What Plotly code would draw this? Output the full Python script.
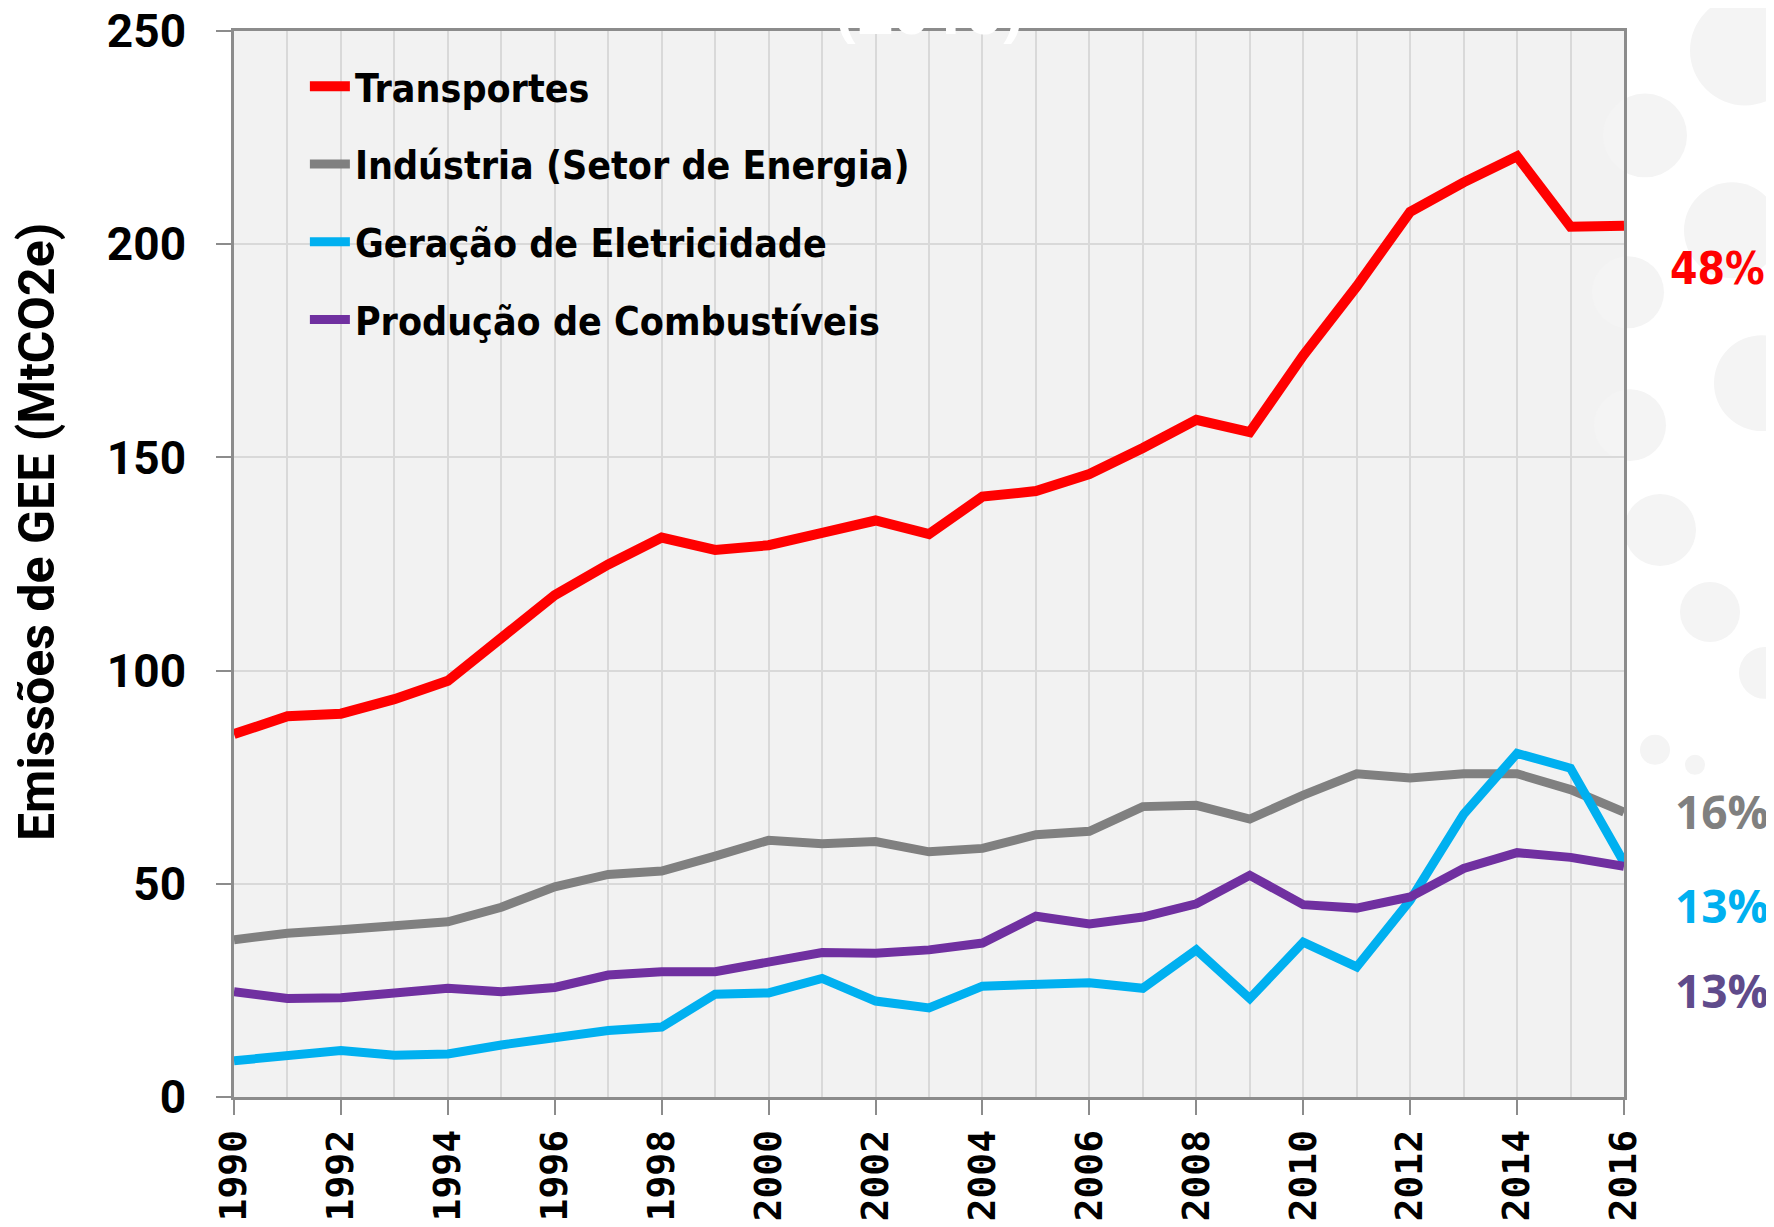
import plotly.graph_objects as go

years = list(range(1990, 2017))

transportes = [85.1, 89.3, 89.9, 93.3, 97.6, 107.6, 117.7, 124.9, 131.2, 128.3,
               129.4, 132.3, 135.2, 132.0, 140.8, 142.1, 146.1, 152.2, 158.8, 155.9,
               173.9, 190.1, 207.6, 214.5, 220.6, 204.1, 204.3]
industria = [36.9, 38.4, 39.2, 40.0, 41.1, 44.5, 49.3, 52.2, 53.0, 56.5,
             60.2, 59.4, 59.9, 57.5, 58.3, 61.5, 62.3, 68.1, 68.4, 65.2,
             70.8, 75.8, 74.8, 75.8, 75.8, 72.1, 66.8]
geracao = [8.5, 9.5, 10.9, 9.8, 10.1, 12.2, 14.1, 15.6, 16.4, 24.1,
           24.4, 27.8, 22.5, 20.9, 26.0, 26.5, 26.8, 25.5, 34.5, 23.1,
           36.3, 30.5, 46.1, 66.3, 80.6, 77.1, 55.0]
producao = [24.7, 23.1, 23.3, 24.4, 25.5, 24.7, 25.7, 28.6, 29.4, 29.4,
            31.5, 33.9, 33.7, 34.5, 36.1, 42.4, 40.6, 42.2, 45.3, 52.0,
            45.1, 44.3, 46.9, 53.6, 57.3, 56.2, 54.1]

series_names = ["Transportes", "Indústria (Setor de Energia)",
                "Geração de Eletricidade", "Produção de Combustíveis"]
series_values = [transportes, industria, geracao, producao]
series_colors = ["#FF0000", "#808080", "#00B0F0", "#7030A0"]

share_labels = ["48%", "16%", "13%", "13%"]
share_colors = ["#FF0000", "#808080", "#00B0F0", "#5F4B8B"]
share_y = [194.3, 67.1, 45.1, 25.2]  # label anchor positions in data units

x_ticks = list(range(1990, 2017, 2))
y_ticks = [0, 50, 100, 150, 200, 250]

# decorative background bubbles (page pixel centre x, centre y, radius)
bubbles = [(1745, 50, 55), (1645, 135, 42), (1732, 230, 48), (1628, 292, 36),
           (1762, 383, 48), (1630, 425, 36), (1660, 530, 36), (1710, 612, 30),
           (1765, 673, 26), (1655, 750, 15), (1695, 765, 10)]

PLOT_L, PLOT_R, PLOT_T, PLOT_B = 234, 1624, 30.5, 1097.5


def px_to_paper_x(px):
    return (px - PLOT_L) / (PLOT_R - PLOT_L)


def px_to_paper_y(py):
    return (PLOT_B - py) / (PLOT_B - PLOT_T)


fig = go.Figure()
for i, (name, vals, col) in enumerate(zip(series_names, series_values, series_colors)):
    fig.add_trace(go.Scatter(
        x=years, y=vals, mode="lines", name=name, legendgroup=f"g{i}",
        line=dict(color=col, width=10 if i == 0 else 9), cliponaxis=False,
    ))

for cx, cy, r in bubbles:
    fig.add_shape(
        type="circle", xref="paper", yref="paper", layer="below",
        x0=px_to_paper_x(cx - r), x1=px_to_paper_x(cx + r),
        y0=px_to_paper_y(cy + r), y1=px_to_paper_y(cy - r),
        fillcolor="#F4F4F4", line=dict(width=0),
    )

# share labels at right
for lab, col, yv in zip(share_labels, share_colors, share_y):
    narrow = lab == "48%"
    fig.add_annotation(
        x=1, xref="paper", y=yv, yref="y", xanchor="right",
        xshift=143 if narrow else 147,
        text=f"<b>{lab}</b>", showarrow=False,
        font=dict(size=44 if narrow else 46, color=col,
                  family="DejaVu Sans Condensed" if narrow else "Open Sans"),
    )

# faint white title remnant at the top
fig.add_annotation(
    x=0.5, xref="paper", y=0.978, yref="paper", yanchor="bottom", xanchor="center",
    text="<b>(2016)</b>", showarrow=False,
    font=dict(size=63, color="white", family="Open Sans"),
)

# y-axis title
fig.add_annotation(
    x=0, xref="paper", xshift=-197, xanchor="center",
    y=0.53, yref="paper", yanchor="middle", textangle=-90,
    text="<b>Emissões de GEE (MtCO2e)</b>", showarrow=False,
    font=dict(size=50, color="black", family="Roboto"),
)

fig.update_layout(
    width=1774, height=1227,
    margin=dict(l=226, r=158, t=23, b=138, autoexpand=False),
    paper_bgcolor="white", plot_bgcolor="#F2F2F2",
    showlegend=True,
    legend=dict(
        x=0.051, y=0.978, xanchor="left", yanchor="top",
        bgcolor="rgba(0,0,0,0)", tracegroupgap=24,
        font=dict(size=39, color="black", family="DejaVu Sans Condensed", weight="bold"),
        itemwidth=40,
    ),
    xaxis=dict(
        range=[1990, 2016], tickvals=x_ticks, ticktext=[str(v) for v in x_ticks],
        tickangle=-90, ticks="outside", ticklen=15, tickcolor="#8C8C8C", tickwidth=1.5,
        showgrid=True, gridcolor="#D9D9D9", gridwidth=1.5,
        minor=dict(dtick=1, showgrid=True, gridcolor="#D9D9D9", gridwidth=1.5),
        showline=True, linecolor="#8C8C8C", linewidth=2.5, mirror=True,
        zeroline=False, automargin=False, ticklabeloverflow="allow",
        tickfont=dict(size=38, color="black", family="DejaVu Sans Mono", weight="bold"),
        ticklabelstandoff=0,
    ),
    yaxis=dict(
        range=[0, 250], tickvals=y_ticks, ticks="outside", ticklen=15,
        tickcolor="#8C8C8C", tickwidth=1.5,
        showgrid=True, gridcolor="#D9D9D9", gridwidth=1.5,
        showline=True, linecolor="#8C8C8C", linewidth=2.5, mirror=True,
        zeroline=False, automargin=False, ticklabeloverflow="allow",
        tickfont=dict(size=46, color="black", family="Roboto", weight="bold"),
        ticklabelstandoff=21,
    ),
)

fig.write_html("out.html")
